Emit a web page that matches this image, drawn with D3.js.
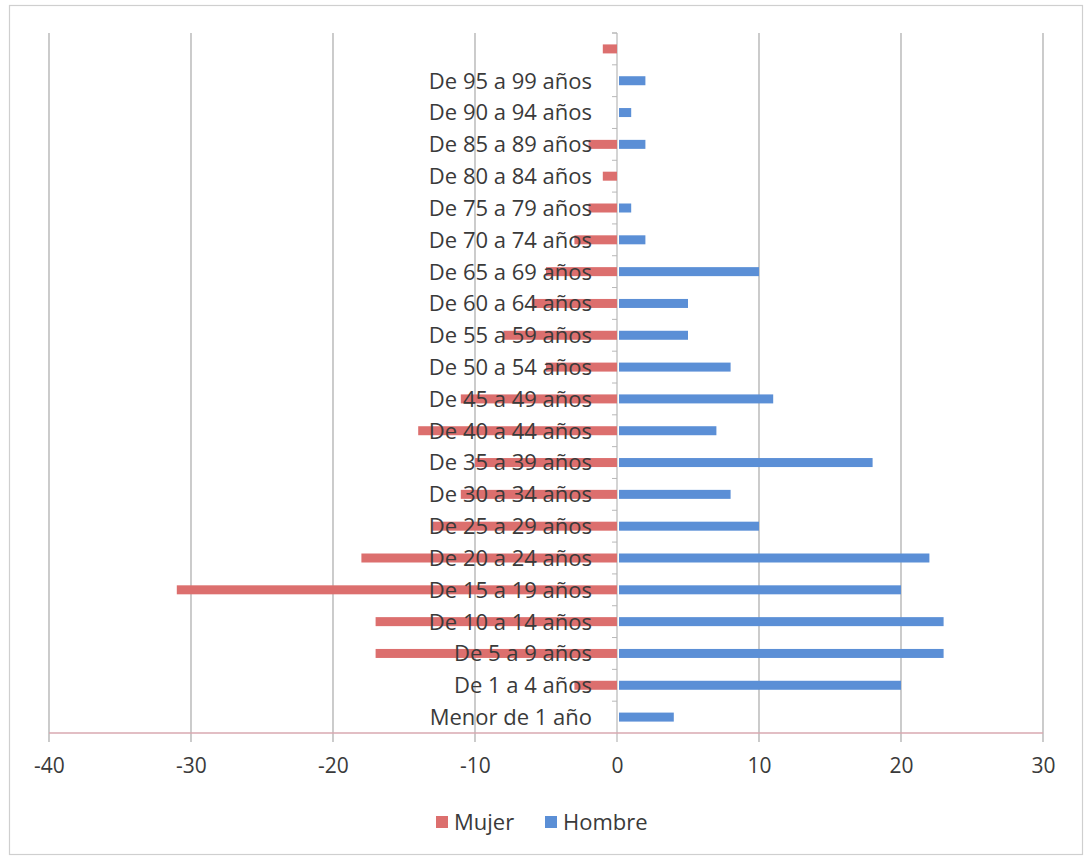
<!DOCTYPE html>
<html><head><meta charset="utf-8">
<script src="https://cdn.jsdelivr.net/npm/d3@7"></script>
<style>body{margin:0;background:#fff;}svg{display:block;font-family:"Open Sans",Lato,sans-serif;}</style>
</head><body>
<svg id="c" width="1089" height="859"></svg>
<script>
const categories = ["Menor de 1 año","De 1 a 4 años","De 5 a 9 años","De 10 a 14 años","De 15 a 19 años","De 20 a 24 años","De 25 a 29 años","De 30 a 34 años","De 35 a 39 años","De 40 a 44 años","De 45 a 49 años","De 50 a 54 años","De 55 a 59 años","De 60 a 64 años","De 65 a 69 años","De 70 a 74 años","De 75 a 79 años","De 80 a 84 años","De 85 a 89 años","De 90 a 94 años","De 95 a 99 años",""];
const mujer  = [0,-3,-17,-17,-31,-18,-13,-11,-10,-14,-11,-5,-8,-6,-5,-3,-2,-1,-2,0,0,-1];
const hombre = [4,20,23,23,20,22,10,8,18,7,11,8,5,5,10,2,1,0,2,1,2,0];
const xTicks = [-40,-30,-20,-10,0,10,20,30];
const seriesNames = ["Mujer","Hombre"];
const colors = ["#dc6f6e","#5b8fd6"];

(function(){
const svg = d3.select("#c");
svg.append("rect").attr("x",9.5).attr("y",5.5).attr("width",1073).attr("height",849)
  .attr("fill","none").attr("stroke","#cfcfcf").attr("stroke-width",1.2);

const x = d3.scaleLinear().domain([-40,30]).range([49,1043]);
const y = d3.scaleBand().domain(categories).range([733,33]);
const yTop = 33, yBot = 733;

svg.append("g").selectAll("line").data(xTicks).join("line")
  .attr("x1",d=>x(d)).attr("x2",d=>x(d)).attr("y1",yTop).attr("y2",yBot+9)
  .attr("stroke",d=>d===0?"#b8b8b8":"#a9a9a9").attr("stroke-width",1.2);

svg.append("line").attr("x1",x(-40)).attr("x2",x(30)).attr("y1",yBot).attr("y2",yBot)
  .attr("stroke","#d8a9b0").attr("stroke-width",1.3);

const bounds = categories.map(c=>y(c)).concat([yTop]);
svg.append("g").selectAll("line").data(bounds).join("line")
  .attr("x1",x(0)-5).attr("x2",x(0)).attr("y1",d=>d).attr("y2",d=>d)
  .attr("stroke","#b8b8b8").attr("stroke-width",1);

const bh = 9;
svg.append("g").selectAll("rect").data(categories).join("rect")
  .attr("x",(c,i)=>x(Math.min(0,mujer[i])))
  .attr("width",(c,i)=>Math.abs(x(mujer[i])-x(0)))
  .attr("y",c=>y(c)+y.bandwidth()/2-bh/2).attr("height",bh)
  .attr("fill",colors[0]);
svg.append("g").selectAll("rect").data(categories).join("rect")
  .attr("x",(c,i)=>x(0)+2)
  .attr("width",(c,i)=>Math.max(0,x(hombre[i])-x(0)-2))
  .attr("y",c=>y(c)+y.bandwidth()/2-bh/2).attr("height",bh)
  .attr("fill",colors[1]);

svg.append("g").selectAll("text").data(categories).join("text")
  .attr("x",x(0)-25).attr("y",c=>y(c)+y.bandwidth()/2)
  .attr("dy","0.36em").attr("text-anchor","end")
  .attr("font-size",22).attr("fill","#3a3a3a").text(c=>c);

const xAxis = d3.axisBottom(x).tickValues(xTicks).tickSize(0).tickFormat(d3.format("d"));
const ga = svg.append("g").attr("transform",`translate(0,${yBot+22})`).call(xAxis);
ga.select(".domain").remove();
ga.selectAll("text").attr("font-size",21).attr("fill","#3a3a3a").attr("font-family","'Open Sans',Lato,sans-serif").attr("dy","0.71em");
ga.selectAll("text").text(d=>d<0?"-"+Math.abs(d):d);

const lg = svg.append("g").attr("transform","translate(436,822)");
const items = [{n:seriesNames[0],c:colors[0],x:0},{n:seriesNames[1],c:colors[1],x:109}];
items.forEach(it=>{
  lg.append("rect").attr("x",it.x).attr("y",-6).attr("width",12).attr("height",12).attr("fill",it.c);
  lg.append("text").attr("x",it.x+18).attr("y",0).attr("dy","0.36em").attr("font-size",22)
    .attr("fill","#3a3a3a").text(it.n);
});
})();
</script>
</body></html>
